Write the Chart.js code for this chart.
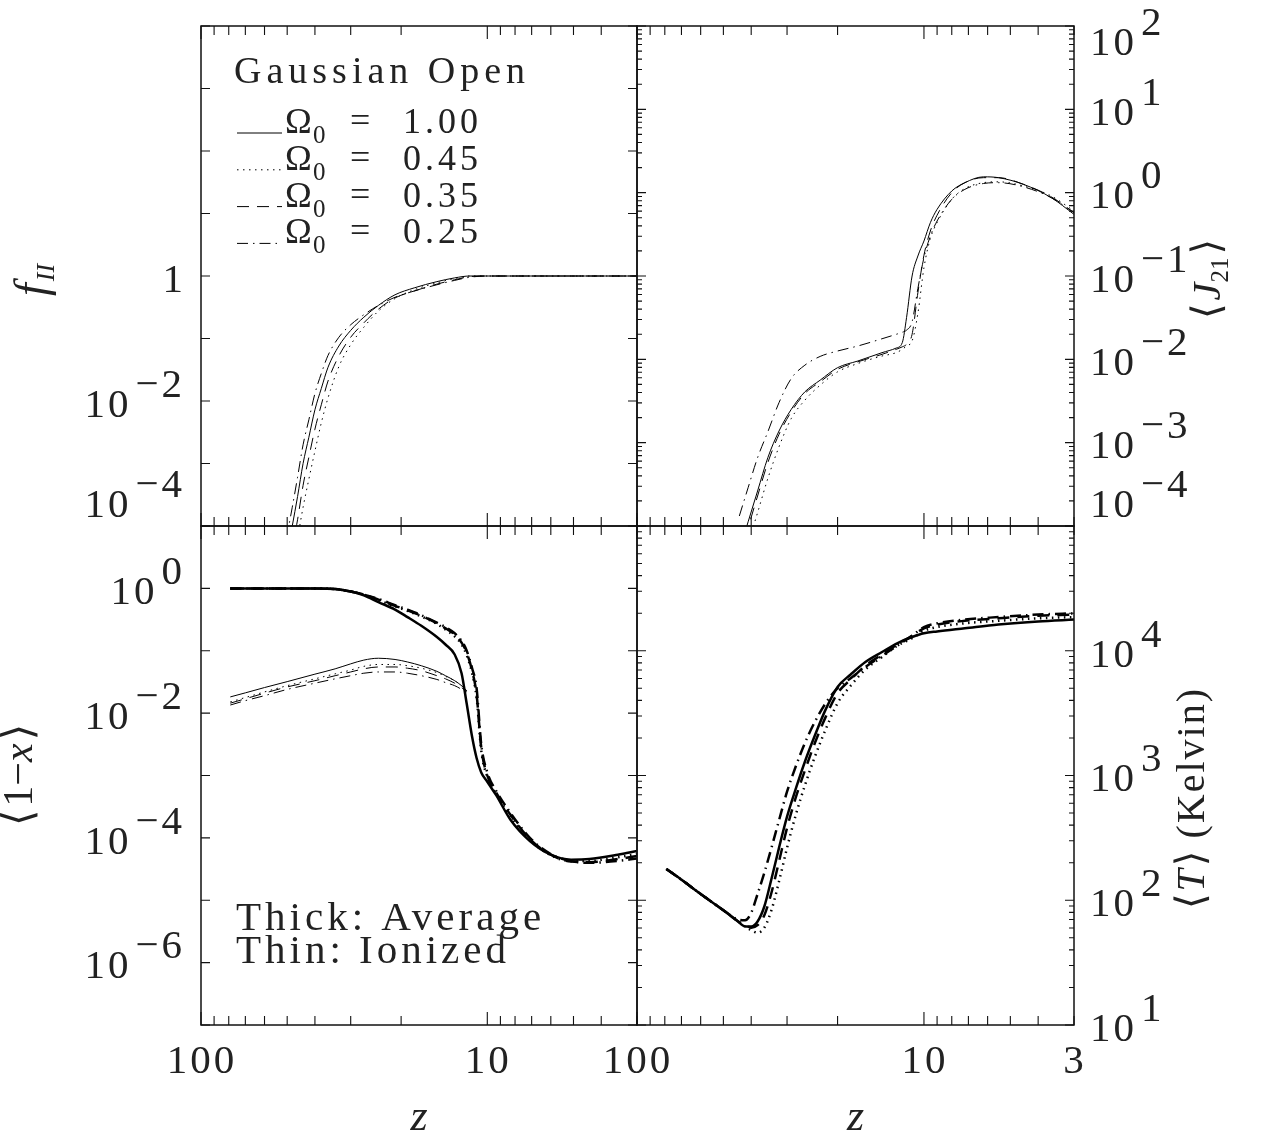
<!DOCTYPE html>
<html>
<head>
<meta charset="utf-8">
<script src="https://cdn.jsdelivr.net/npm/chart.js@4.4.0/dist/chart.umd.min.js"></script>
<style>
html, body { margin: 0; background: #fff; }
#wrap { position: relative; width: 1262px; height: 1142px; }
#wrap canvas { position: absolute; left: 0; top: 0; }
</style>
</head>
<body>
<div id="wrap">
  <canvas id="cTL" width="1262" height="1142"></canvas>
  <canvas id="cTR" width="1262" height="1142"></canvas>
  <canvas id="cBL" width="1262" height="1142"></canvas>
  <canvas id="cBR" width="1262" height="1142"></canvas>
</div>
<script>
// Page and panel edges (pixels)
const W = 1262, H = 1142;
const X_LEFT = 201, X_MID = 637, X_RIGHT = 1074;
const Y_TOP = 26, Y_MID = 526, Y_BOT = 1025;

// Legend / tick labels
const omegaLabels = ['1.00', '0.45', '0.35', '0.25'];
const zTicks = [100, 90, 80, 70, 60, 50, 40, 30, 20, 10, 9, 8, 7, 6, 5, 4, 3];
const zLabelsLeft = [100, 10];
const zLabelsRight = [100, 10, 3];

// Top left: f_II, values are log10
const zF = [52, 48, 46, 44, 42, 40, 38, 36, 33, 30, 27, 24, 21, 18, 15, 13, 11.5, 10, 3];
const fSolid   = [-4.9, -4.0, -3.53, -3.0, -2.58, -2.14, -1.80, -1.46, -1.12, -0.87, -0.66, -0.47, -0.30, -0.19, -0.09, -0.03, 0, 0, 0];
const fDotted  = [-5.6, -4.7, -4.2, -3.7, -3.25, -2.8, -2.35, -1.95, -1.45, -1.1, -0.82, -0.56, -0.36, -0.22, -0.11, -0.04, 0, 0, 0];
const fDashed  = [-5.3, -4.35, -3.9, -3.35, -2.9, -2.45, -2.06, -1.68, -1.28, -0.98, -0.75, -0.53, -0.35, -0.24, -0.13, -0.06, -0.01, 0, 0];
const fDashDot = [-4.55, -3.7, -3.22, -2.7, -2.3, -1.88, -1.56, -1.27, -0.98, -0.78, -0.62, -0.47, -0.34, -0.24, -0.14, -0.07, -0.02, 0, 0];

// Top right: <J21>, log10
const zJ = [44, 41, 38, 35, 32, 29, 26, 23, 20, 17, 14, 12.5, 11.9, 11.5, 11.0, 10.5, 10.0, 9.5, 9.0, 8.0, 7.2, 6.2, 5.5, 4.5, 3.6, 3.0];
const jSolid   = [-4.30, -3.95, -3.58, -3.18, -2.86, -2.60, -2.39, -2.25, -2.10, -2.02, -1.92, -1.865, -1.80, -1.50, -1.0, -0.76, -0.58, -0.36, -0.20, 0.02, 0.12, 0.19, 0.18, 0.10, -0.06, -0.26];
const jDotted  = [-4.56, -4.21, -3.84, -3.43, -3.05, -2.71, -2.49, -2.31, -2.15, -2.05, -1.96, -1.92, -1.88, -1.84, -1.78, -1.45, -0.90, -0.55, -0.36, -0.08, 0.05, 0.12, 0.13, 0.08, -0.04, -0.22];
const jDashed  = [-4.38, -4.02, -3.64, -3.24, -2.90, -2.63, -2.41, -2.27, -2.12, -2.03, -1.94, -1.88, -1.85, -1.82, -1.70, -1.20, -0.75, -0.46, -0.27, 0.0, 0.12, 0.18, 0.18, 0.10, -0.05, -0.24];
const jDashDot = [-3.88, -3.54, -3.18, -2.87, -2.52, -2.23, -2.07, -1.965, -1.90, -1.84, -1.753, -1.70, -1.675, -1.65, -1.55, -1.15, -0.78, -0.52, -0.34, -0.08, 0.04, 0.11, 0.12, 0.07, -0.06, -0.24];

// Bottom left: <1-x>, log10 (thick = average, thin = ionized)
const zX = [79, 70, 60, 50, 40, 34, 30, 27, 24, 21, 19, 17, 15, 14, 13, 12.3, 11.8, 11.3, 10.9, 10.5, 10, 9.3, 8.3, 7.1, 6.0, 5.1, 4.4, 3.5, 3.0];
const avgSolid   = [0, 0, 0, 0, 0, -0.01, -0.05, -0.11, -0.22, -0.34, -0.46, -0.60, -0.78, -0.90, -1.06, -1.36, -1.85, -2.38, -2.72, -2.95, -3.10, -3.32, -3.71, -4.05, -4.27, -4.35, -4.34, -4.27, -4.21];
const avgDotted  = [0, 0, 0, 0, 0, -0.01, -0.05, -0.10, -0.19, -0.29, -0.36, -0.45, -0.57, -0.66, -0.77, -0.90, -1.07, -1.36, -1.75, -2.60, -3.02, -3.30, -3.65, -4.03, -4.28, -4.37, -4.37, -4.31, -4.26];
const avgDashed  = [0, 0, 0, 0, 0, -0.01, -0.05, -0.10, -0.18, -0.28, -0.35, -0.44, -0.56, -0.64, -0.74, -0.87, -1.03, -1.32, -1.70, -2.55, -3.00, -3.28, -3.63, -4.02, -4.27, -4.38, -4.39, -4.34, -4.29];
const avgDashDot = [0, 0, 0, 0, 0, -0.01, -0.05, -0.10, -0.17, -0.27, -0.34, -0.43, -0.55, -0.62, -0.72, -0.84, -1.00, -1.28, -1.60, -2.50, -2.95, -3.25, -3.60, -4.00, -4.26, -4.37, -4.40, -4.37, -4.33];
const ionSolid   = [-1.74, -1.675, -1.59, -1.495, -1.375, -1.29, -1.21, -1.15, -1.12, -1.14, -1.18, -1.24, -1.33, -1.40, -1.48, -1.56, -1.64, null, null, null, null, null, null, null, null, null, null, null, null];
const ionDotted  = [-1.82, -1.75, -1.66, -1.56, -1.45, -1.37, -1.31, -1.25, -1.22, -1.22, -1.24, -1.28, -1.35, -1.41, -1.48, -1.56, -1.64, null, null, null, null, null, null, null, null, null, null, null, null];
const ionDashed  = [-1.84, -1.77, -1.68, -1.58, -1.48, -1.40, -1.34, -1.29, -1.26, -1.26, -1.28, -1.32, -1.40, -1.45, -1.52, -1.59, -1.66, null, null, null, null, null, null, null, null, null, null, null, null];
const ionDashDot = [-1.87, -1.80, -1.72, -1.62, -1.52, -1.45, -1.40, -1.36, -1.34, -1.34, -1.36, -1.40, -1.46, -1.51, -1.56, -1.62, -1.68, null, null, null, null, null, null, null, null, null, null, null, null];

// Bottom right: <T> in Kelvin, log10
const zT = [79, 70, 60, 50, 45, 42, 40, 38, 36, 34, 32, 30, 28, 26, 24, 22, 20, 18, 16, 14, 12.4, 11, 10, 9, 7.2, 5.5, 4, 3];
const tSolid   = [2.25, 2.165, 2.05, 1.92, 1.84, 1.79, 1.79, 1.83, 1.95, 2.17, 2.42, 2.67, 2.89, 3.11, 3.32, 3.53, 3.71, 3.81, 3.91, 3.99, 4.06, 4.11, 4.14, 4.155, 4.18, 4.21, 4.235, 4.25];
const tDotted  = [2.25, 2.165, 2.05, 1.92, 1.84, 1.79, 1.76, 1.74, 1.78, 1.92, 2.15, 2.42, 2.68, 2.92, 3.15, 3.37, 3.58, 3.72, 3.85, 3.95, 4.04, 4.10, 4.16, 4.19, 4.22, 4.24, 4.26, 4.27];
const tDashed  = [2.25, 2.165, 2.05, 1.92, 1.84, 1.80, 1.78, 1.80, 1.88, 2.06, 2.31, 2.58, 2.82, 3.04, 3.26, 3.47, 3.66, 3.77, 3.88, 3.97, 4.05, 4.12, 4.18, 4.21, 4.24, 4.26, 4.28, 4.29];
const tDashDot = [2.25, 2.165, 2.05, 1.92, 1.85, 1.84, 1.90, 2.05, 2.22, 2.42, 2.64, 2.87, 3.07, 3.26, 3.43, 3.58, 3.70, 3.78, 3.87, 3.96, 4.04, 4.12, 4.19, 4.22, 4.25, 4.27, 4.29, 4.30];

// Line styles (PGPLOT-like)
const DASH = { solid: [], dotted: [1.5, 4.5], dashed: [12, 8], dashdot: [11, 5, 1.5, 5] };
const INK = '#111';
const SERIF = '"Liberation Serif", "DejaVu Serif", serif';
const LABEL_FONT = '41px ' + SERIF;

function series(zs, logs, style, width) {
    return {
        data: zs.map((z, i) => ({ x: z, y: logs[i] === null ? null : Math.pow(10, logs[i]) })),
        borderColor: '#000',
        borderWidth: width,
        borderDash: DASH[style],
        pointRadius: 0,
        fill: false,
        spanGaps: false,
        cubicInterpolationMode: 'monotone'
    };
}

// "10" with a raised exponent of the same size
function drawPow(ctx, e, x, yc, align) {
    ctx.font = LABEL_FONT;
    ctx.textBaseline = 'middle';
    ctx.textAlign = 'left';
    ctx.letterSpacing = '3px';
    const sup = e < 0 ? '\u2212' + (-e) : String(e);
    const wb = ctx.measureText('10').width, ws = ctx.measureText(sup).width, gap = 4;
    const x0 = align === 'right' ? x - (wb + gap + ws) : x;
    ctx.fillText('10', x0, yc);
    ctx.fillText(sup, x0 + wb + gap, yc - 20);
    ctx.letterSpacing = '0px';
}

// text made of several runs (fonts / offsets), centred at cx, optionally rotated
function drawRich(ctx, parts, cx, cy, rot) {
    ctx.save();
    ctx.translate(cx, cy);
    ctx.rotate(rot || 0);
    ctx.textBaseline = 'alphabetic';
    ctx.textAlign = 'left';
    let w = 0;
    parts.forEach(p => { ctx.font = p.font; ctx.letterSpacing = p.ls || '0px'; w += ctx.measureText(p.t).width + (p.dx || 0); });
    let x = -w / 2;
    parts.forEach(p => {
        ctx.font = p.font;
        ctx.letterSpacing = p.ls || '0px';
        x += (p.dx || 0);
        ctx.fillText(p.t, x, p.dy || 0);
        x += ctx.measureText(p.t).width;
    });
    ctx.restore();
}

function panelPlugin(cfg) {
    return {
        id: 'panel_' + cfg.name,
        afterDraw(chart) {
            const ctx = chart.ctx, a = chart.chartArea;
            const xs = chart.scales.x, ys = chart.scales.y;
            ctx.save();
            ctx.strokeStyle = INK;
            ctx.fillStyle = '#222';

            // frame
            ctx.lineWidth = 1.5;
            ctx.strokeRect(a.left, a.top, a.right - a.left, a.bottom - a.top);

            // inward ticks
            ctx.lineWidth = 1.1;
            ctx.beginPath();
            zTicks.forEach(v => {
                const px = xs.getPixelForValue(v);
                const len = (v === 100 || v === 10) ? 13 : 9;
                ctx.moveTo(px, a.bottom); ctx.lineTo(px, a.bottom - len);
                ctx.moveTo(px, a.top); ctx.lineTo(px, a.top + len);
            });
            const lo = Math.round(Math.log10(cfg.yMin)), hi = Math.round(Math.log10(cfg.yMax));
            for (let e = lo; e <= hi; e++) {
                const py = ys.getPixelForValue(Math.pow(10, e));
                ctx.moveTo(a.left, py); ctx.lineTo(a.left + 9, py);
                ctx.moveTo(a.right, py); ctx.lineTo(a.right - 9, py);
                if (cfg.minor && e < hi) {
                    for (let k = 2; k <= 9; k++) {
                        const pm = ys.getPixelForValue(k * Math.pow(10, e));
                        ctx.moveTo(a.left, pm); ctx.lineTo(a.left + 5, pm);
                        ctx.moveTo(a.right, pm); ctx.lineTo(a.right - 5, pm);
                    }
                }
            }
            ctx.stroke();

            // y tick labels
            cfg.yLabels.forEach(e => {
                let yc = ys.getPixelForValue(Math.pow(10, e)) + 5;
                yc = Math.max(yc, a.top + 18);
                if (cfg.clampBottom) yc = Math.min(yc, a.bottom - 20);
                if (cfg.ySide === 'left') {
                    if (e === 0 && cfg.plainOne) {
                        ctx.font = LABEL_FONT; ctx.textAlign = 'right'; ctx.textBaseline = 'middle';
                        ctx.fillText('1', a.left - 18, yc);
                    } else {
                        drawPow(ctx, e, a.left - 16, yc, 'right');
                    }
                } else {
                    drawPow(ctx, e, a.right + 16, yc, 'left');
                }
            });

            // x tick labels
            if (cfg.xLabels) {
                ctx.font = LABEL_FONT;
                ctx.letterSpacing = '3px';
                ctx.textAlign = 'center';
                ctx.textBaseline = 'middle';
                cfg.xLabels.forEach(v => {
                    ctx.fillText(String(v), xs.getPixelForValue(v) + 1, 1062);
                });
                ctx.letterSpacing = '0px';
                drawRich(ctx, [{ t: 'z', font: 'italic 44px ' + SERIF }], (a.left + a.right) / 2, 1130, 0);
            }

            if (cfg.extra) cfg.extra(ctx, chart);
            ctx.restore();
        }
    };
}

function makeChart(id, cfg, datasets) {
    return new Chart(document.getElementById(id), {
        type: 'line',
        data: { datasets: datasets },
        options: {
            responsive: false,
            animation: false,
            events: [],
            layout: { padding: { left: cfg.box[0], top: cfg.box[1], right: W - cfg.box[2], bottom: H - cfg.box[3] } },
            plugins: { legend: { display: false }, tooltip: { enabled: false } },
            scales: {
                x: { type: 'logarithmic', min: 3, max: 100, reverse: true, display: false, bounds: 'data' },
                y: { type: 'logarithmic', min: cfg.yMin, max: cfg.yMax, display: false, bounds: 'data' }
            }
        },
        plugins: [panelPlugin(cfg)]
    });
}

// Top left: f_II with legend
const fiiChart = makeChart('cTL', {
    name: 'fii', box: [X_LEFT, Y_TOP, X_MID, Y_MID], yMin: 1e-4, yMax: 1e4, minor: false,
    ySide: 'left', yLabels: [0, -2, -4], plainOne: true, clampBottom: true, xLabels: null,
    extra(ctx, chart) {
        ctx.fillStyle = '#222';
        ctx.textAlign = 'left';
        ctx.textBaseline = 'alphabetic';
        ctx.font = '38px ' + SERIF;
        ctx.letterSpacing = '5px';
        ctx.fillText('Gaussian Open', 234, 83);
        chart.data.datasets.forEach((ds, i) => {
            const yb = 133 + i * 36.8;
            ctx.save();
            ctx.strokeStyle = '#000';
            ctx.lineWidth = 1;
            ctx.setLineDash(ds.borderDash);
            ctx.beginPath(); ctx.moveTo(237, yb); ctx.lineTo(282, yb); ctx.stroke();
            ctx.restore();
            ctx.letterSpacing = '0px';
            ctx.font = '36px ' + SERIF;
            ctx.fillText('\u03A9', 285, yb);
            ctx.font = '25px ' + SERIF;
            ctx.fillText('0', 313, yb + 10);
            ctx.font = '36px ' + SERIF;
            ctx.fillText('=', 350, yb - 1);
            ctx.letterSpacing = '4px';
            ctx.fillText(omegaLabels[i], 403, yb);
        });
        ctx.letterSpacing = '0px';
        drawRich(ctx, [
            { t: 'f', font: 'italic 46px ' + SERIF, dy: 8 },
            { t: 'II', font: 'italic 26px ' + SERIF, dy: 16, dx: 2 }
        ], 38, 280, -Math.PI / 2);
    }
}, [
    series(zF, fSolid, 'solid', 1),
    series(zF, fDotted, 'dotted', 1),
    series(zF, fDashed, 'dashed', 1),
    series(zF, fDashDot, 'dashdot', 1)
]);

// Top right: <J21>
const j21Chart = makeChart('cTR', {
    name: 'j21', box: [X_MID, Y_TOP, X_RIGHT, Y_MID], yMin: 1e-4, yMax: 1e2, minor: true,
    ySide: 'right', yLabels: [2, 1, 0, -1, -2, -3, -4], clampBottom: true, xLabels: null,
    extra(ctx) {
        drawRich(ctx, [
            { t: '\u27E8', font: '40px ' + SERIF },
            { t: 'J', font: 'italic 40px ' + SERIF, dx: 3 },
            { t: '21', font: '25px ' + SERIF, dy: 8 },
            { t: '\u27E9', font: '40px ' + SERIF, dx: 3 }
        ], 1220, 279, -Math.PI / 2);
    }
}, [
    series(zJ, jSolid, 'solid', 1),
    series(zJ, jDotted, 'dotted', 1),
    series(zJ, jDashed, 'dashed', 1),
    series(zJ, jDashDot, 'dashdot', 1)
]);

// Bottom left: <1-x>
const ionChart = makeChart('cBL', {
    name: 'ion', box: [X_LEFT, Y_MID, X_MID, Y_BOT], yMin: 1e-7, yMax: 1e1, minor: false,
    ySide: 'left', yLabels: [0, -2, -4, -6], clampBottom: false, xLabels: zLabelsLeft,
    extra(ctx) {
        ctx.fillStyle = '#222';
        ctx.textAlign = 'left';
        ctx.textBaseline = 'alphabetic';
        ctx.font = '41px ' + SERIF;
        ctx.letterSpacing = '4px';
        ctx.fillText('Thick: Average', 236, 930);
        ctx.fillText('Thin: Ionized', 236, 963);
        ctx.letterSpacing = '0px';
        drawRich(ctx, [
            { t: '\u27E8', font: '42px ' + SERIF },
            { t: '1\u2212', font: '42px ' + SERIF, dx: 3 },
            { t: 'x', font: 'italic 42px ' + SERIF },
            { t: '\u27E9', font: '42px ' + SERIF, dx: 3 }
        ], 32, 775, -Math.PI / 2);
    }
}, [
    series(zX, avgSolid, 'solid', 2.5),
    series(zX, avgDotted, 'dotted', 2.5),
    series(zX, avgDashed, 'dashed', 2.5),
    series(zX, avgDashDot, 'dashdot', 2.5),
    series(zX, ionSolid, 'solid', 1),
    series(zX, ionDotted, 'dotted', 1),
    series(zX, ionDashed, 'dashed', 1),
    series(zX, ionDashDot, 'dashdot', 1)
]);

// Bottom right: <T>
const tempChart = makeChart('cBR', {
    name: 'temp', box: [X_MID, Y_MID, X_RIGHT, Y_BOT], yMin: 1e1, yMax: 1e5, minor: true,
    ySide: 'right', yLabels: [4, 3, 2, 1], clampBottom: false, xLabels: zLabelsRight,
    extra(ctx) {
        drawRich(ctx, [
            { t: '\u27E8', font: '40px ' + SERIF },
            { t: 'T', font: 'italic 40px ' + SERIF, dx: 2 },
            { t: '\u27E9', font: '40px ' + SERIF, dx: 3 },
            { t: ' (Kelvin)', font: '40px ' + SERIF, ls: '2px' }
        ], 1204, 798, -Math.PI / 2);
    }
}, [
    series(zT, tSolid, 'solid', 2.5),
    series(zT, tDotted, 'dotted', 2.5),
    series(zT, tDashed, 'dashed', 2.5),
    series(zT, tDashDot, 'dashdot', 2.5)
]);
</script>
</body>
</html>
